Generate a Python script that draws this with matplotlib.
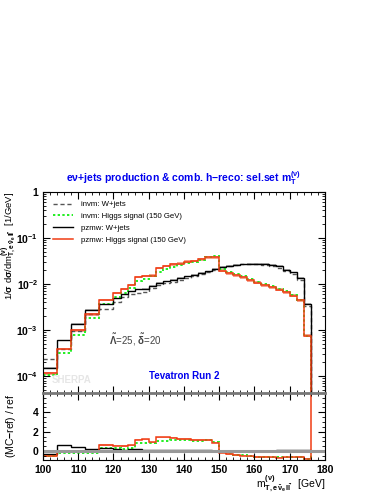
import numpy as np
import matplotlib
matplotlib.use("Agg")
import matplotlib.pyplot as plt
from matplotlib.ticker import MultipleLocator, FixedLocator, FuncFormatter, LogLocator, NullFormatter

plt.rcParams['font.family'] = ['Liberation Sans', 'DejaVu Sans']
plt.rcParams['font.weight'] = 'bold'
plt.rcParams['mathtext.fontset'] = 'custom'
plt.rcParams['mathtext.rm'] = 'Liberation Sans:bold'
plt.rcParams['mathtext.bf'] = 'Liberation Sans:bold'
plt.rcParams['mathtext.it'] = 'Liberation Sans:bold:italic'
plt.rcParams['mathtext.default'] = 'bf'

# bin edges: 4 GeV below 120, 2 GeV up to 176, last bin 176-180
edges = [100, 104, 108, 112, 116, 120, 122, 124, 126, 128, 130, 132, 134, 136, 138,
         140, 142, 144, 146, 148, 150, 152, 154, 156, 158, 160, 162, 164, 166, 168,
         170, 172, 174, 176, 180]

# invm: W+jets (reference)
invm_wjets = [2.3e-4, 3.8e-4, 9.5e-4, 2.25e-3, 2.8e-3, 4.1e-3, 5.2e-3, 6.0e-3, 6.5e-3, 6.8e-3,
              8.0e-3, 9.3e-3, 0.0103, 0.0113, 0.0123, 0.0136, 0.0148, 0.0163, 0.0178, 0.0205,
              0.0236, 0.0245, 0.0263, 0.0268, 0.0275, 0.0272, 0.0262, 0.0252, 0.0228, 0.0190,
              0.0165, 0.0124, 0.0034, 1e-6]
# invm: Higgs signal (150 GeV)
invm_higgs = [1.05e-4, 3.2e-4, 7.8e-4, 1.85e-3, 3.7e-3, 5.3e-3, 6.5e-3, 8.1e-3, 0.0118, 0.0126,
              0.0148, 0.0186, 0.0211, 0.0237, 0.0262, 0.0288, 0.0305, 0.0340, 0.0385, 0.0400,
              0.0210, 0.0185, 0.0168, 0.0150, 0.0128, 0.0113, 0.0100, 0.0089, 0.0079, 0.0069,
              0.0058, 0.0046, 7.6e-4, 1e-6]
# pzmw: W+jets
pzmw_wjets = [1.5e-4, 6.0e-4, 1.38e-3, 2.75e-3, 3.6e-3, 4.9e-3, 6.0e-3, 7.0e-3, 7.6e-3, 7.8e-3,
              9.2e-3, 0.0105, 0.0115, 0.0125, 0.0135, 0.0148, 0.0160, 0.0175, 0.0190, 0.0215,
              0.0236, 0.0245, 0.0265, 0.0270, 0.0278, 0.0278, 0.0272, 0.0265, 0.0245, 0.0205,
              0.0180, 0.0136, 0.0037, 1e-6]
# pzmw: Higgs signal (150 GeV)
pzmw_higgs = [1.15e-4, 3.9e-4, 1.0e-3, 2.2e-3, 4.5e-3, 6.4e-3, 7.8e-3, 9.5e-3, 0.0142, 0.0150,
              0.0152, 0.0223, 0.0247, 0.0270, 0.0278, 0.0306, 0.0318, 0.0345, 0.0380, 0.0385,
              0.0195, 0.0170, 0.0155, 0.0140, 0.0120, 0.0106, 0.0094, 0.0084, 0.0075, 0.0066,
              0.0056, 0.0044, 7.5e-4, 3e-5]

labels = ['invm: W+jets', 'invm: Higgs signal (150 GeV)', 'pzmw: W+jets', 'pzmw: Higgs signal (150 GeV)']

edges = np.array(edges)
ref = np.array(invm_wjets)
ih = np.array(invm_higgs)
pw = np.array(pzmw_wjets)
ph = np.array(pzmw_higgs)

RED = '#f03c14'
BAND = '#f6a08c'
GREEN = '#22ee22'

fig = plt.figure(figsize=(3.82, 4.94), dpi=100)
ax = fig.add_axes([0.1126, 0.2045, 0.738, 0.407])
rax = fig.add_axes([0.1126, 0.0688, 0.738, 0.1357])

# main panel
ax.stairs(ph * 1.07, edges, baseline=ph * 0.93, fill=True, color=BAND, lw=0)
ax.stairs(pw * 1.03, edges, baseline=pw * 0.97, fill=True, color='#bbbbbb', lw=0)
ax.stairs(ref, edges, baseline=None, color='#555555', lw=1.0, ls=(0, (3, 2)), label=labels[0])
ax.stairs(ih, edges, baseline=None, color=GREEN, lw=1.4, ls=(0, (1.2, 1.2)), label=labels[1])
ax.stairs(pw, edges, baseline=None, color='black', lw=1.0, label=labels[2])
ax.stairs(ph, edges, baseline=None, color=RED, lw=1.1, label=labels[3])

ax.set_yscale('log')
ax.set_ylim(4.3e-5, 1)
ax.set_xlim(100, 180)
ax.xaxis.set_major_locator(MultipleLocator(10))
ax.xaxis.set_minor_locator(MultipleLocator(2))
ax.yaxis.set_major_locator(FixedLocator([1e-4, 1e-3, 1e-2, 1e-1, 1]))
ax.yaxis.set_minor_locator(LogLocator(base=10, subs=np.arange(2, 10)))
ax.yaxis.set_minor_formatter(NullFormatter())
ax.yaxis.set_major_formatter(FuncFormatter(lambda v, p: '1' if v == 1 else r'$10^{%d}$' % round(np.log10(v))))
ax.tick_params(which='both', direction='in', top=True, right=True, labelbottom=False, labelsize=7.5)
ax.tick_params(which='major', length=5)
ax.tick_params(which='minor', length=2.5)
ax.spines['bottom'].set_visible(False)

ax.set_ylabel(r'1/$\sigma$ d$\sigma$/dm$^{(\nu)}_{\rm T,e\,\bar{\nu}_e\,l\bar{l}^{\prime}}$  [1/GeV]',
              loc='top', fontsize=6.8)
ax.yaxis.set_label_coords(-0.088, 1.0)

ax.text(0.5, 1.025, r'e$\nu$+jets production & comb. h$-$reco: sel.set m$_{\rm T}^{(\nu)}$',
        transform=ax.transAxes, ha='center', va='bottom', color='#0000ee', fontsize=7.5)

leg = ax.legend(loc='upper left', bbox_to_anchor=(0.01, 0.99), frameon=False, fontsize=5.6,
                handlelength=2.6, labelspacing=0.55, handletextpad=1.0)
for t in leg.get_texts():
    t.set_fontweight('normal')

ax.text(0.235, 0.24, r'$\tilde{\Lambda}$=25, $\tilde{\delta}$=20', transform=ax.transAxes,
        fontsize=7, color='#444444', fontweight='normal')
ax.text(0.5, 0.07, 'Tevatron Run 2', transform=ax.transAxes, ha='center', color='#0000ee', fontsize=7)
ax.text(0.03, 0.05, 'SHERPA', transform=ax.transAxes, color='#e6e6e6', fontsize=7)

# ratio panel
r_ih = ih / ref - 1
r_pw = pw / ref - 1
r_ph = ph / ref - 1
rax.axhline(0, color='#999999', lw=2.2)
rax.stairs(r_ph + 0.08, edges, baseline=r_ph - 0.08, fill=True, color=BAND, lw=0)
rax.stairs(r_ih, edges, baseline=None, color=GREEN, lw=1.4, ls=(0, (1.2, 1.2)))
rax.stairs(r_pw, edges, baseline=None, color='black', lw=1.0)
rax.stairs(r_ph, edges, baseline=None, color=RED, lw=1.1)
rax.set_xlim(100, 180)
rax.set_ylim(-0.93, 6.0)
rax.xaxis.set_major_locator(MultipleLocator(10))
rax.xaxis.set_minor_locator(MultipleLocator(2))
rax.yaxis.set_major_locator(FixedLocator([0, 2, 4]))
rax.yaxis.set_minor_locator(MultipleLocator(0.5))
rax.tick_params(which='both', direction='in', top=True, right=True, labelsize=7.5)
rax.tick_params(which='major', length=5)
rax.tick_params(which='minor', length=2.5)
rax.spines['top'].set_color('#777777')
rax.spines['top'].set_linewidth(2)
rax.set_ylabel('(MC$-$ref) / ref', fontsize=7.5)
rax.yaxis.set_label_coords(-0.088, 0.5)
rax.set_xlabel(r'm$^{(\nu)}_{\rm T,e\,\bar{\nu}_e\,l\bar{l}^{\prime}}$  [GeV]', loc='right', fontsize=7.5)
rax.xaxis.set_label_coords(1.0, -0.2)

fig.savefig('out.png', dpi=100)
